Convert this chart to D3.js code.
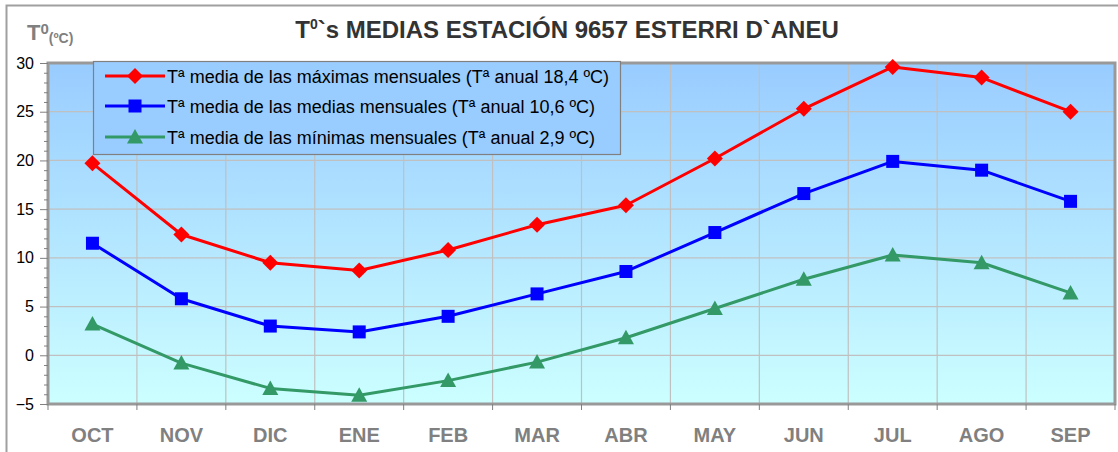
<!DOCTYPE html>
<html><head><meta charset="utf-8">
<script src="https://cdn.jsdelivr.net/npm/d3@7"></script>
<style>body{margin:0;background:#fff}svg{display:block;font-family:Arial,"Liberation Sans",sans-serif}</style>
</head><body><svg id="c" width="1118" height="452"></svg>
<script>
const months = ["OCT","NOV","DIC","ENE","FEB","MAR","ABR","MAY","JUN","JUL","AGO","SEP"];
const maxVals = [19.7,12.4,9.5,8.7,10.8,13.4,15.4,20.2,25.3,29.6,28.5,25.0];
const meanVals = [11.5,5.8,3.0,2.4,4.0,6.3,8.6,12.6,16.6,19.9,19.0,15.8];
const minVals = [3.2,-0.8,-3.4,-4.1,-2.6,-0.7,1.8,4.8,7.8,10.3,9.5,6.4];
const yTicks = [-5,0,5,10,15,20,25,30];
const seriesNames = ["Tª media de las máximas mensuales (Tª anual 18,4 ºC)","Tª media de las medias mensuales (Tª anual 10,6 ºC)","Tª media de las mínimas mensuales (Tª anual 2,9 ºC)"];
const seriesColors = ["#ff0000","#0000ff","#339966"];
const seriesShapes = ["diamond","square","triangle"];
const titleMain = "`s MEDIAS ESTACIÓN 9657 ESTERRI D`ANEU";

const svg = d3.select("#c");
const L=48, R=1115, T=63, B=404;
const x = d3.scaleBand().domain(months).range([L,R]);
const y = d3.scaleLinear().domain([-5,30]).range([B,T]);

// outer border
svg.append("rect").attr("x",6.5).attr("y",5.5).attr("width",1140).attr("height",470)
  .attr("fill","none").attr("stroke","#a0a0a0").attr("stroke-width",2);

// gradient
const defs = svg.append("defs");
const g = defs.append("linearGradient").attr("id","bg").attr("x1",0).attr("y1",0).attr("x2",0).attr("y2",1);
g.append("stop").attr("offset","0%").attr("stop-color","#99ccff");
g.append("stop").attr("offset","100%").attr("stop-color","#ccffff");
svg.append("rect").attr("x",L).attr("y",T).attr("width",R-L).attr("height",B-T).attr("fill","url(#bg)");

// grid
svg.append("g").selectAll("line").data(yTicks).join("line")
  .attr("x1",L).attr("x2",R).attr("y1",d=>y(d)).attr("y2",d=>y(d))
  .attr("stroke","#c0c0c0").attr("stroke-width",1.2);
svg.append("g").selectAll("line").data(months.slice(1)).join("line")
  .attr("x1",d=>x(d)).attr("x2",d=>x(d)).attr("y1",T).attr("y2",B)
  .attr("stroke","#c0c0c0").attr("stroke-width",1.2);

// plot border
svg.append("rect").attr("x",L).attr("y",T).attr("width",R-L).attr("height",B-T)
  .attr("fill","none").attr("stroke","#999999").attr("stroke-width",3);

// y axis major
const ya = svg.append("g").attr("transform",`translate(${L},0)`)
  .call(d3.axisLeft(y).tickValues(yTicks).tickSize(8).tickPadding(6));
ya.select(".domain").remove();
ya.selectAll("line").attr("stroke","#808080");
ya.selectAll("text").attr("font-size",16).attr("fill","#000").attr("font-family","Arial");
// minor
const minor = d3.range(-5,31,1).filter(v=>v%5!==0);
const ym = svg.append("g").attr("transform",`translate(${L},0)`)
  .call(d3.axisLeft(y).tickValues(minor).tickSize(4).tickFormat(""));
ym.select(".domain").remove();
ym.selectAll("line").attr("stroke","#808080");

// x ticks at band boundaries
const bounds = months.map(m=>x(m)).concat([R]);
svg.append("g").selectAll("line").data(bounds).join("line")
  .attr("x1",d=>d).attr("x2",d=>d).attr("y1",B).attr("y2",B+6).attr("stroke","#808080");
// x labels
const xa = svg.append("g").attr("transform",`translate(0,${B})`)
  .call(d3.axisBottom(x).tickSize(0).tickPadding(0));
xa.select(".domain").remove();
xa.selectAll("text").attr("dy",null).attr("y",38).attr("font-size",20).attr("font-weight","bold")
  .attr("fill","#808080").attr("font-family","Arial");

// series
const data = [maxVals,meanVals,minVals];
const line = d3.line().x((d,i)=>x(months[i])+x.bandwidth()/2).y(d=>y(d));
function marker(sel, shape, color){
  if(shape==="diamond") sel.append("path").attr("d","M0,-8L8,0L0,8L-8,0Z").attr("fill",color);
  else if(shape==="square") sel.append("rect").attr("x",-6.5).attr("y",-6.5).attr("width",13).attr("height",13).attr("fill",color);
  else sel.append("path").attr("d","M0,-8L8,6.5L-8,6.5Z").attr("fill",color);
}
data.forEach((vals,k)=>{
  svg.append("path").datum(vals).attr("d",line).attr("fill","none")
    .attr("stroke",seriesColors[k]).attr("stroke-width",3).attr("stroke-linejoin","round");
  vals.forEach((v,i)=>{
    const gg = svg.append("g").attr("transform",`translate(${x(months[i])+x.bandwidth()/2},${y(v)})`);
    marker(gg, seriesShapes[k], seriesColors[k]);
  });
});

// legend
const lg = svg.append("g");
lg.append("rect").attr("x",93.5).attr("y",61.5).attr("width",527).attr("height",93)
  .attr("fill","#99ccff").attr("stroke","#808080").attr("stroke-width",1.2);
const rowsY = [76,106,137];
seriesNames.forEach((n,k)=>{
  lg.append("line").attr("x1",105).attr("x2",165).attr("y1",rowsY[k]).attr("y2",rowsY[k])
    .attr("stroke",seriesColors[k]).attr("stroke-width",3);
  marker(lg.append("g").attr("transform",`translate(135,${rowsY[k]})`), seriesShapes[k], seriesColors[k]);
  lg.append("text").attr("x",167).attr("y",rowsY[k]+6.5).attr("font-size",18).attr("fill","#000").text(n);
});

// title
const tt = svg.append("text").attr("x",567).attr("y",38).attr("text-anchor","middle")
  .attr("font-size",24).attr("font-weight","bold").attr("fill","#333333");
tt.append("tspan").text("T");
tt.append("tspan").attr("font-size",14).attr("dy",-9).text("0");
tt.append("tspan").attr("dy",9).text(titleMain);

// y label
const yl = svg.append("text").attr("x",27).attr("y",40).attr("font-weight","bold").attr("fill","#808080");
yl.append("tspan").attr("font-size",22).text("T");
yl.append("tspan").attr("font-size",15).attr("dy",-6).text("0");
yl.append("tspan").attr("font-size",14).attr("dy",9).text("(ºC)");
</script></body></html>
